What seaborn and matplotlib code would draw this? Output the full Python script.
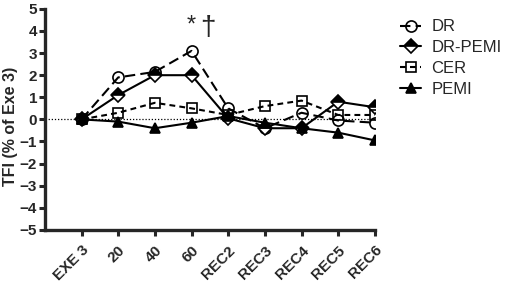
import numpy as np
import pandas as pd
import matplotlib
matplotlib.use("Agg")
import matplotlib.pyplot as plt
import seaborn as sns

categories = ["EXE 3", "20", "40", "60", "REC2", "REC3", "REC4", "REC5", "REC6"]
dr = [0.0, 1.9, 2.15, 3.1, 0.5, -0.4, 0.3, -0.05, -0.15]
dr_pemi = [0.0, 1.1, 2.0, 2.0, 0.05, -0.4, -0.4, 0.8, 0.55]
cer = [0.0, 0.3, 0.75, 0.5, 0.2, 0.6, 0.85, 0.2, 0.2]
pemi = [0.0, -0.1, -0.4, -0.15, 0.15, -0.15, -0.4, -0.6, -0.95]

sns.set_style("ticks")
plt.rcParams["font.family"] = ["Liberation Sans", "DejaVu Sans"]

fig = plt.figure(figsize=(5.1, 2.87), dpi=100)
ax = fig.add_axes([0.088, 0.199, 0.647, 0.77])

pos = np.arange(len(categories))
ax.axhline(0, color="black", lw=0.9, ls=(0, (1, 1.5)), zorder=1)

styles = [
    ("DR", dr, dict(marker="o", ls=(0, (5, 2.5)), mfc="none", fillstyle="full", markersize=8)),
    ("DR-PEMI", dr_pemi, dict(marker="D", ls="-", mfc="black", fillstyle="top",
                              markerfacecoloralt="white", markersize=7.5)),
    ("CER", cer, dict(marker="s", ls=(0, (2.8, 2)), mfc="none", fillstyle="full", markersize=7.5)),
    ("PEMI", pemi, dict(marker="^", ls="-", mfc="black", fillstyle="full", markersize=7.5)),
]

handles = []
for name, vals, kw in styles:
    df = pd.DataFrame({"pos": pos, "val": vals})
    sns.lineplot(data=df, x="pos", y="val", ax=ax, color="black", lw=1.5,
                 mec="black", mew=1.2, sort=False, label=name, legend=False,
                 **kw)
    handles.append(ax.lines[-1])

ax.set_xlim(-1, 8)
ax.set_ylim(-5, 5)
ax.set_yticks(range(-5, 6))
ax.set_xticks(pos)
ax.set_xticklabels(categories, rotation=45, ha="right", rotation_mode="anchor")
ax.tick_params(axis="both", width=2.2, length=4.5, labelsize=11)
ax.tick_params(axis="y", pad=1)
ax.tick_params(axis="x", pad=5)
for lab in ax.get_xticklabels() + ax.get_yticklabels():
    lab.set_fontweight("bold")
sns.despine(ax=ax)
for s in ["left", "bottom"]:
    ax.spines[s].set_linewidth(2.4)
ax.set_xlabel("")
ax.set_ylabel("TFI (% of Exe 3)", fontsize=11.5, fontweight="bold")
ax.yaxis.set_label_coords(-0.08, 0.47)

ax.text(3, 4.25, "*", fontsize=17, ha="center", va="center")
ax.text(3.45, 4.15, "\u2020", fontsize=20, ha="center", va="center")

ax.legend(handles=handles, labels=[s[0] for s in styles], loc="upper left",
          bbox_to_anchor=(1.03, 1.02), frameon=False,
          handlelength=1.3, handletextpad=0.6, labelspacing=0.35,
          prop={"size": 12})

fig.savefig("out.png", dpi=100)
